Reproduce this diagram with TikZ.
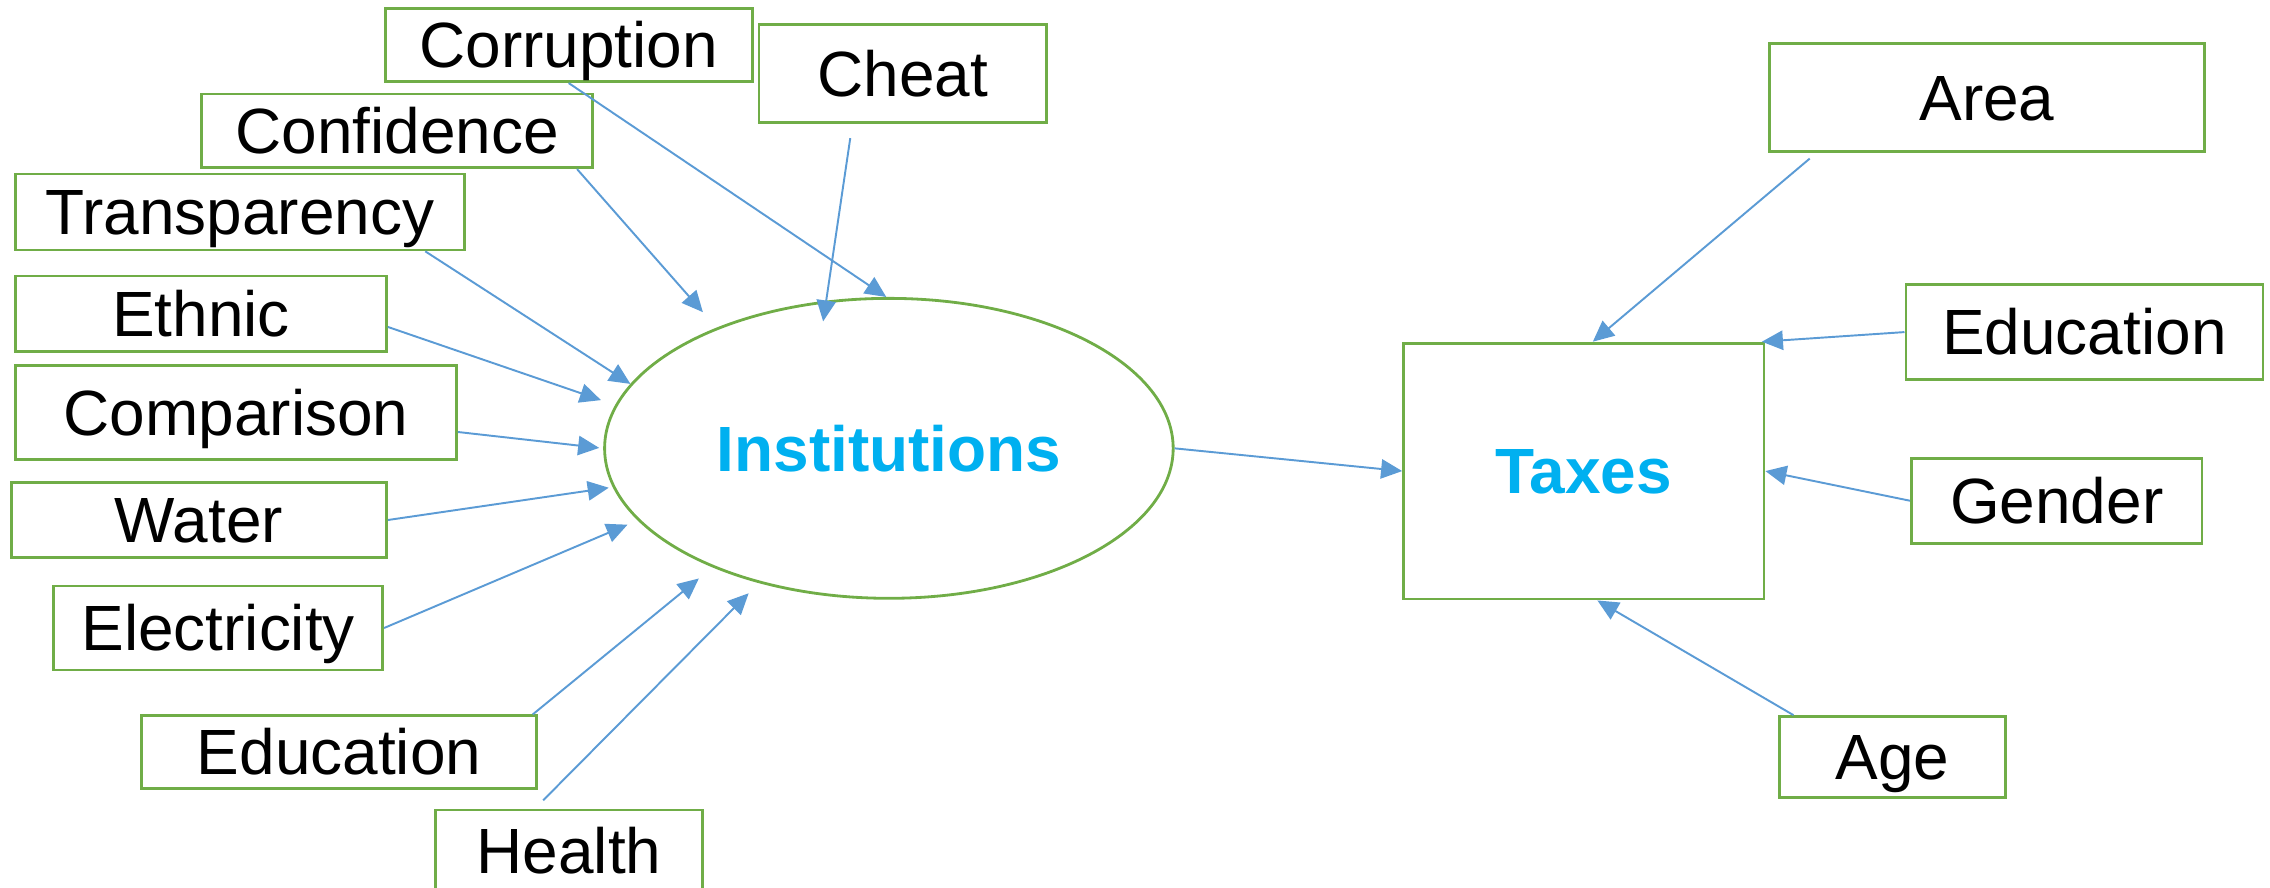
\documentclass[tikz,border=0pt]{standalone}
\usepackage{fontspec}
\setmainfont{Liberation Sans}
\usetikzlibrary{arrows.meta,shapes.geometric}
\definecolor{boxgreen}{HTML}{70AD47}
\definecolor{arrowblue}{HTML}{5B9BD5}
\definecolor{titleblue}{HTML}{00B0F0}

\begin{document}
\begin{tikzpicture}[
x=0.014477cm,y=-0.014477cm,
mybox/.style={
  draw=boxgreen,
  line width=0.8pt,
  inner sep=0pt,
  text height=13pt,
  text depth=0pt,
  font=\fontsize{18.2}{22}\selectfont
  },
mymain/.style={
  mybox,
  font=\fontsize{18.2}{22}\selectfont\bfseries,
  text=titleblue
  },
myarrow/.style={
  color=arrowblue,
  line width=0.55pt,
  -{Triangle[length=6pt,width=5.5pt]}
  }
]
\useasboundingbox (0,0) rectangle (1568,613);
\node[mybox,minimum width=3.670cm,minimum height=0.733cm] (corruption) at (392.8,31.1) {Corruption};
\node[mybox,minimum width=2.877cm,minimum height=0.980cm] (cheat) at (623.6,50.7) {Cheat};
\node[mybox,minimum width=3.915cm,minimum height=0.737cm] (confidence) at (274.3,90.4) {Confidence};
\node[mybox,minimum width=4.488cm,minimum height=0.760cm] (transparency) at (165.7,146.4) {Transparency};
\node[mybox,minimum width=3.710cm,minimum height=0.756cm] (ethnic) at (138.8,216.8) {Ethnic};
\node[mybox,minimum width=4.411cm,minimum height=0.934cm] (comparison) at (163,285) {Comparison};
\node[mybox,minimum width=3.750cm,minimum height=0.753cm] (water) at (137.5,359.2) {Water};
\node[mybox,minimum width=3.291cm,minimum height=0.840cm] (electricity) at (150.7,433.8) {Electricity};
\node[mybox,minimum width=3.949cm,minimum height=0.725cm] (educationL) at (234.2,519.5) {Education};
\node[mybox,minimum width=2.671cm,minimum height=0.811cm] (health) at (393,587.5) {Health};
\node[mymain,ellipse,minimum width=5.687cm,minimum height=3.000cm] (inst) at (614,309.7) {Institutions};
\node[mymain,minimum width=3.605cm,minimum height=2.560cm] (taxes) at (1094,325.4) {Taxes};
\node[mybox,minimum width=4.358cm,minimum height=1.079cm] (area) at (1372.5,67.3) {Area};
\node[mybox,minimum width=3.571cm,minimum height=0.955cm] (educationR) at (1439.8,229.4) {Education};
\node[mybox,minimum width=2.907cm,minimum height=0.853cm] (gender) at (1420.7,345.9) {Gender};
\node[mybox,minimum width=2.264cm,minimum height=0.812cm] (age) at (1307.2,523) {Age};
\path[myarrow]
  (corruption.south) edge (inst.91)
  (cheat.-135) edge[shorten <=0.145cm,shorten >=-0.21cm] (inst.113.8)
  (confidence.-12) edge[shorten >=0.206cm] (inst.145.5)
  (transparency.-12) edge (inst.166)
  (ethnic.-4) edge[shorten >=0.15cm] (inst.171.3)
  (comparison.-5) edge[shorten >=0.04cm] (inst.180)
  (water.east) edge[shorten >=0.04cm] (inst.188.7)
  (electricity.east) edge[shorten >=0.11cm] (inst.196)
  (educationL.11) edge[shorten >=0.175cm] (inst.214.4)
  (health.129) edge[shorten <=0.116cm,shorten >=0.143cm] (inst.226)
  (inst.east) edge (taxes.west)
  (area.198) edge[shorten <=0.09cm] (taxes.86)
  (educationR.west) edge (taxes.36.5)
  (gender.west) edge (taxes.east)
  (age.157) edge (taxes.-84);
\end{tikzpicture}
\end{document}
